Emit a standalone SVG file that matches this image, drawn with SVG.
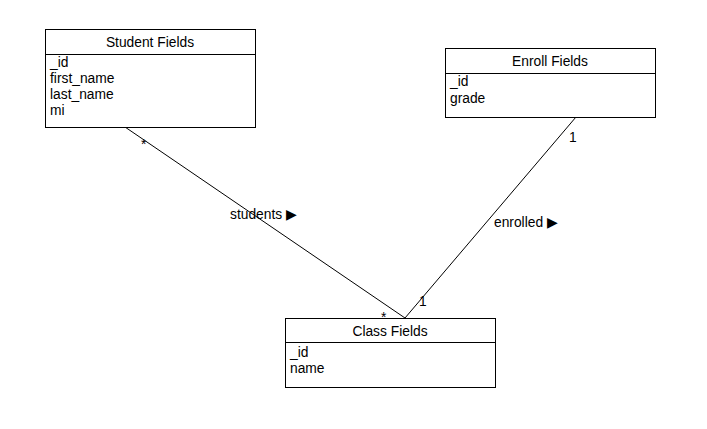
<svg xmlns="http://www.w3.org/2000/svg" width="707" height="429" viewBox="0 0 707 429">
<style>
text{font-family:"Liberation Sans",Arial,sans-serif;font-size:13.8px;fill:#000}
.box{fill:#fff;stroke:#000;stroke-width:1}
.ln{stroke:#000;stroke-width:1;fill:none}
.t{text-anchor:middle}
</style>
<rect width="707" height="429" fill="#fff"/>
<g id="connectors">
<line class="ln" x1="125" y1="127" x2="405" y2="318"/>
<line class="ln" x1="576" y1="117" x2="405" y2="318"/>
<text x="141" y="149">*</text>
<text x="230" y="219">students ▶</text>
<text x="381" y="322">*</text>
<text x="419" y="306">1</text>
<text x="569" y="142">1</text>
<text x="494" y="227">enrolled ▶</text>
</g>
<g id="student">
<rect class="box" x="45.5" y="29.5" width="210" height="98"/>
<line class="ln" x1="45.5" y1="54.5" x2="255.5" y2="54.5"/>
<text class="t" x="150" y="47">Student Fields</text>
<text x="50" y="67">_id</text>
<text x="50" y="83">first_name</text>
<text x="50" y="99">last_name</text>
<text x="50" y="115">mi</text>
</g>
<g id="enroll">
<rect class="box" x="445.5" y="48.5" width="210" height="69"/>
<line class="ln" x1="445.5" y1="73.5" x2="655.5" y2="73.5"/>
<text class="t" x="550" y="66">Enroll Fields</text>
<text x="450" y="86">_id</text>
<text x="450" y="103">grade</text>
</g>
<g id="class">
<rect class="box" x="285.5" y="318.5" width="210" height="69"/>
<line class="ln" x1="285.5" y1="342.5" x2="495.5" y2="342.5"/>
<text class="t" x="390" y="336">Class Fields</text>
<text x="290" y="357">_id</text>
<text x="290" y="373">name</text>
</g>
</svg>
